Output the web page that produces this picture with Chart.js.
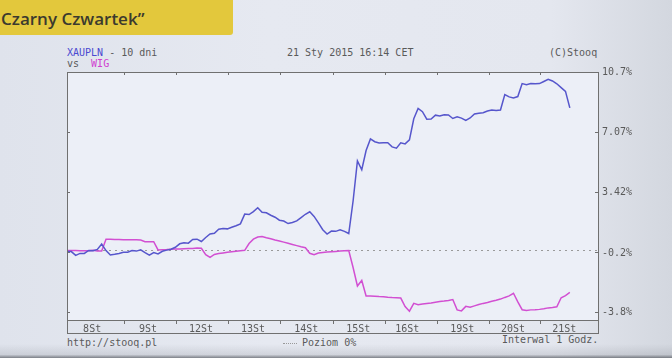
<!DOCTYPE html>
<html><head><meta charset="utf-8">
<script src="https://cdn.jsdelivr.net/npm/chart.js@4/dist/chart.umd.min.js"></script>
<style>
html,body{margin:0;padding:0;}
body{width:672px;height:358px;overflow:hidden;position:relative;background:linear-gradient(90deg,#dfe3ec 0%,#e6e9f1 40%,#e4e7ef 82%,#d3d7df 100%);font-family:"DejaVu Sans Mono",monospace;}
#shade{position:absolute;left:0;top:344px;width:672px;height:14px;background:linear-gradient(180deg,rgba(0,0,0,0) 0%,rgba(60,64,72,0.12) 75%,rgba(40,44,50,0.55) 100%);}
#title{position:absolute;left:0;top:0;width:233px;height:35px;background:#e3c83c;border-bottom-right-radius:3px;}
#title span{position:absolute;left:1px;top:7px;font-family:"Open Sans";font-weight:600;font-size:17px;color:#3b3a2e;white-space:pre;}
.t{position:absolute;font-size:10px;color:#5a5a5a;white-space:pre;line-height:10px;}
#dots{position:absolute;left:283px;top:343px;width:14px;border-top:1px dotted #999;}
canvas{position:absolute;left:0;top:0;}
</style></head>
<body>
<div id="shade"></div>
<div id="title"><span>Czarny Czwartek”</span></div>
<div class="t" style="left:67px;top:48px"><span style="color:#4a4ad0">XAUPLN</span> - 10 dni</div>
<div class="t" style="left:67px;top:59px">vs  <span style="color:#d040d0">WIG</span></div>
<div class="t" style="left:287px;top:48px">21 Sty 2015 16:14 CET</div>
<div class="t" style="left:549px;top:48px">(C)Stooq</div>
<div class="t" style="left:67px;top:338px">http://stooq.pl</div>
<div id="dots"></div>
<div class="t" style="left:302px;top:338px">Poziom 0%</div>
<div class="t" style="left:502px;top:335px">Interwal 1 Godz.</div>
<canvas id="c" width="672" height="358"></canvas>
<script>
// x index = 2-hour steps from chart start
const dayLabels = ['8St','9St','12St','13St','14St','15St','16St','19St','20St','21St'];
const dayBounds = [13.2,25.2,37.2,49.3,61.4,73.4,85.5,97.4,109.3];
const dayCenters = [5.8,18.7,30.9,42.9,55.2,67.2,78.5,91.2,102.9,114.7];
const yTickValues = [10.7,7.07,3.42,-0.2,-3.8];
const yTickLabels = ['10.7%','7.07%','3.42%','-0.2%','-3.8%'];

const xauplnPct = [
 -0.11,-0.12,-0.35,-0.23,-0.23,-0.05,-0.07,0.01,0.34,-0.06,
 -0.32,-0.28,-0.23,-0.16,-0.16,-0.06,-0.09,-0.01,-0.18,-0.33,
 -0.18,-0.26,-0.10,-0.03,0.02,0.14,0.35,0.41,0.39,0.61,
 0.63,0.49,0.73,0.94,0.99,1.23,1.27,1.25,1.35,1.44,
 1.55,2.14,2.11,2.29,2.52,2.25,2.22,2.07,1.95,1.77,
 1.72,1.57,1.63,1.73,1.93,2.13,2.28,2.00,1.61,1.20,
 0.94,1.12,1.10,1.19,1.10,0.97,2.93,5.34,4.81,5.97,
 6.67,6.50,6.43,6.44,6.44,6.19,6.11,6.43,6.37,6.61,
 7.88,8.51,8.31,7.86,7.87,8.10,8.05,8.13,8.11,7.90,
 8.00,7.92,7.78,7.93,8.17,8.22,8.25,8.35,8.41,8.38,
 8.41,9.34,9.20,9.14,9.22,10.00,9.94,10.00,9.99,10.00,
 10.13,10.26,10.16,9.99,9.76,9.53,8.54
];
const wigPct = [
 -0.05,-0.06,-0.06,-0.07,-0.07,-0.07,-0.04,-0.08,-0.08,0.63,
 0.62,0.61,0.61,0.60,0.60,0.60,0.59,0.58,0.48,0.48,
 0.48,-0.02,-0.01,0.00,0.02,0.03,0.04,0.05,0.06,0.07,
 0.10,0.08,-0.30,-0.47,-0.29,-0.24,-0.20,-0.16,-0.13,-0.10,
 -0.07,-0.04,0.37,0.63,0.76,0.79,0.72,0.66,0.58,0.52,
 0.45,0.38,0.31,0.24,0.17,0.11,-0.22,-0.31,-0.21,-0.17,
 -0.15,-0.13,-0.11,-0.09,-0.07,-0.06,-1.08,-2.19,-1.86,-2.79,
 -2.80,-2.81,-2.83,-2.84,-2.87,-2.89,-2.90,-2.92,-3.43,-3.71,
 -3.24,-3.32,-3.28,-3.24,-3.21,-3.17,-3.13,-3.10,-3.06,-3.01,
 -3.63,-3.69,-3.42,-3.47,-3.39,-3.31,-3.24,-3.18,-3.11,-3.05,
 -2.98,-2.88,-2.79,-2.63,-3.15,-3.62,-3.66,-3.63,-3.62,-3.60,
 -3.56,-3.51,-3.48,-3.44,-2.90,-2.77,-2.58
];

const X_MAX = 122.5, Y_MIN = -4.24, Y_MAX = 10.7;
const FRAME = '#707070', TXT = '#5a5a5a';
const monoFont = {family:'"DejaVu Sans Mono", monospace', size:10};

const framePlugin = {
  id:'frame',
  beforeDraw(chart){
    const {ctx, chartArea:a} = chart;
    ctx.save();
    ctx.fillStyle = '#eceff7';
    ctx.fillRect(a.left, a.top, a.right-a.left, a.bottom-a.top);
    ctx.restore();
  },
  beforeDatasetsDraw(chart){
    const {ctx, chartArea:a, scales} = chart;
    const y0 = Math.round(scales.y.getPixelForValue(0)) + 0.5;
    ctx.save();
    ctx.strokeStyle = '#9a9a9a';
    ctx.lineWidth = 1;
    ctx.setLineDash([2,4]);
    ctx.beginPath(); ctx.moveTo(a.left, y0); ctx.lineTo(a.right, y0); ctx.stroke();
    ctx.restore();
  },
  afterDraw(chart){
    const {ctx, chartArea:a} = chart;
    ctx.save();
    ctx.strokeStyle = FRAME;
    ctx.lineWidth = 1;
    const l = Math.round(a.left)+0.5, r = Math.round(a.right)+0.5;
    const t = Math.round(a.top)+0.5, b = Math.round(a.bottom)+0.5;
    ctx.strokeRect(l, t, r-l, b-t);
    ctx.strokeRect(l, b, r-l, 13);
    ctx.restore();
  }
};

new Chart(document.getElementById('c'), {
  type:'line',
  data:{
    datasets:[
      {label:'XAUPLN', data:xauplnPct.map((v,i)=>({x:i,y:v})), borderColor:'#5656cc', borderWidth:1.5, pointRadius:0, tension:0, yAxisID:'y', xAxisID:'x'},
      {label:'WIG', data:wigPct.map((v,i)=>({x:i,y:v})), borderColor:'#d24fd2', borderWidth:1.5, pointRadius:0, tension:0, yAxisID:'y', xAxisID:'x'}
    ]
  },
  options:{
    responsive:false, animation:false,
    layout:{padding:{left:67, right:0, top:72, bottom:0}},
    plugins:{legend:{display:false}, tooltip:{enabled:false}},
    scales:{
      x:{
        type:'linear', position:'bottom', min:0, max:X_MAX,
        afterBuildTicks(axis){
          axis.ticks = dayBounds.concat(dayCenters).sort((p,q)=>p-q).map(v=>({value:v}));
        },
        afterFit(axis){ axis.height = 38; },
        border:{display:false},
        grid:{drawOnChartArea:false, drawTicks:true, tickLength:4,
          color:(c)=> (c.tick && dayBounds.includes(c.tick.value)) ? FRAME : 'rgba(0,0,0,0)'},
        ticks:{autoSkip:false, maxRotation:0, padding:-1, color:TXT, font:monoFont,
          callback:(v)=>{ const k = dayCenters.indexOf(v); return k>=0 ? dayLabels[k] : ''; }}
      },
      xTop:{
        type:'linear', position:'top', min:0, max:X_MAX,
        afterBuildTicks(axis){ axis.ticks = dayBounds.map(v=>({value:v})); },
        afterFit(axis){ axis.height = 0; },
        border:{display:false},
        grid:{drawOnChartArea:false, drawTicks:true, tickLength:-3, color:FRAME},
        ticks:{display:false}
      },
      y:{
        type:'linear', position:'right', min:Y_MIN, max:Y_MAX,
        afterBuildTicks(axis){ axis.ticks = yTickValues.map(v=>({value:v})); },
        afterFit(axis){ axis.width = 74; },
        border:{display:false},
        grid:{drawOnChartArea:false, drawTicks:true, tickLength:-3, color:FRAME},
        ticks:{padding:7, color:TXT, font:monoFont,
          callback:(v)=>{ const k = yTickValues.indexOf(v); return k>=0 ? yTickLabels[k] : ''; }}
      },
      yLeft:{
        type:'linear', position:'left', min:Y_MIN, max:Y_MAX,
        afterBuildTicks(axis){ axis.ticks = yTickValues.map(v=>({value:v})); },
        afterFit(axis){ axis.width = 0; },
        border:{display:false},
        grid:{drawOnChartArea:false, drawTicks:true, tickLength:-3, color:FRAME},
        ticks:{display:false}
      }
    }
  },
  plugins:[framePlugin]
});
</script>
</body></html>
